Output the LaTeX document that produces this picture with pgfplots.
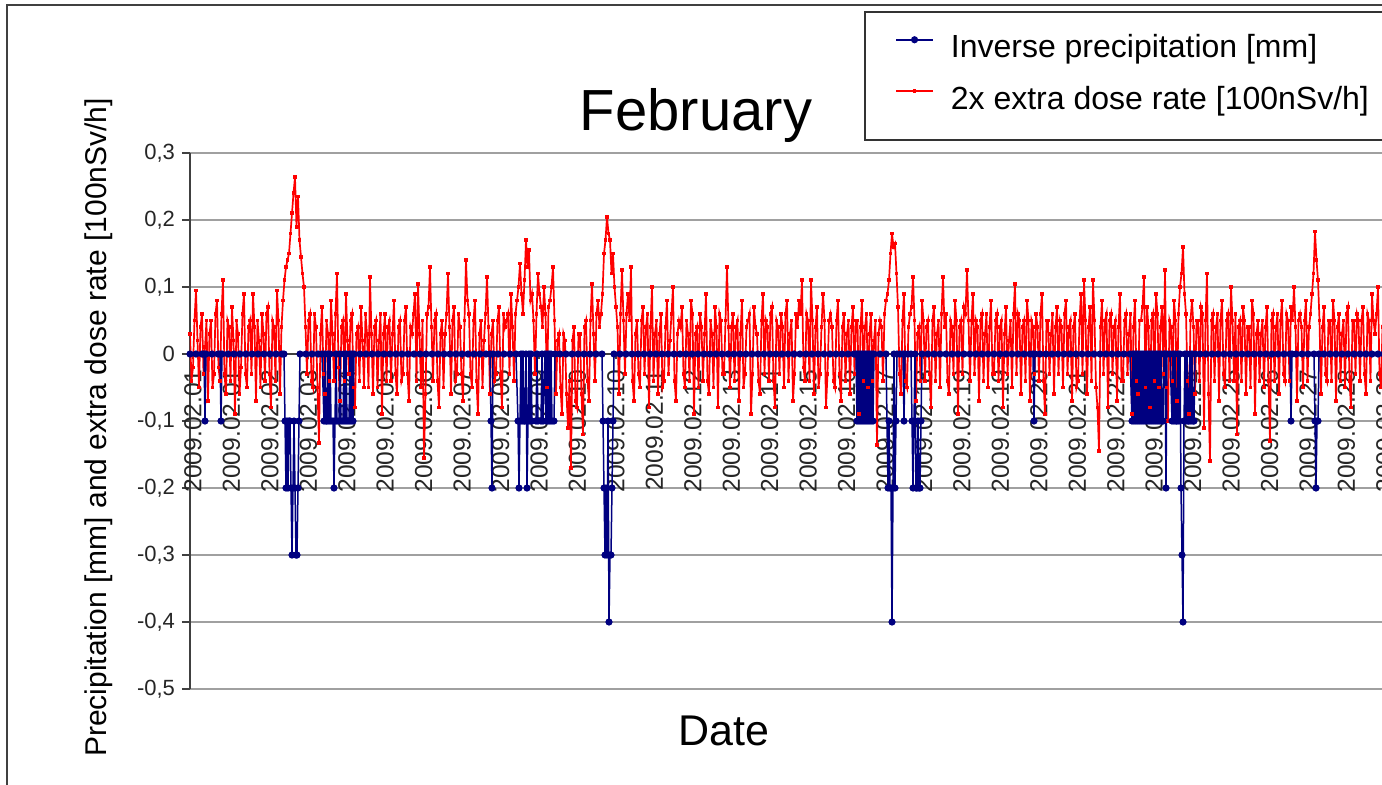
\documentclass[border=0pt]{standalone}
\usepackage{fontspec}
\setmainfont{Liberation Sans}
\usepackage{pgfplots}
\pgfplotsset{compat=1.18}
\usepackage{pgfplotstable}
\definecolor{navyblue}{RGB}{0,0,128}
\definecolor{gridgray}{RGB}{160,160,160}
\definecolor{axisgray}{RGB}{64,64,64}

\pgfplotstableread[row sep=\\]{
x y\\
190 0.03\\ 191.5 -0.04\\ 193 -0.02\\ 194.5 0.05\\ 196 0.095\\ 197.5 0.02\\ 199 -0.05\\ 200.5 0.04\\ 202 0.06\\ 203.5 -0.03\\ 205 0.01\\ 206.5 0.05\\ 208 -0.07\\ 209.5 0.03\\ 211 0.05\\ 212.5 -0.05\\ 214 -0.03\\ 215.5 0.06\\ 217 0.08\\ 218.5 -0.02\\
220 -0.04\\ 221.5 0.06\\ 223 0.11\\ 224.5 -0.03\\ 226 -0.06\\ 227.5 0.05\\ 229 0.04\\ 230.5 -0.04\\ 232 0.07\\ 233.5 0.02\\ 235 -0.09\\ 236.5 0.05\\ 238 0.03\\ 239.5 -0.06\\ 241 -0.02\\ 242.5 0.06\\ 244 0.09\\ 245.5 -0.03\\ 247 -0.05\\ 248.5 0.04\\
250 0.05\\ 251.5 -0.03\\ 253 0.09\\ 254.5 0.04\\ 256 -0.07\\ 257.5 0.05\\ 259 0.02\\ 260.5 -0.05\\ 262 0.06\\ 263.5 0.03\\ 265 -0.04\\ 266.5 0.06\\ 268 0.07\\ 269.5 -0.03\\ 271 -0.08\\ 272.5 0.05\\ 274 0.04\\ 275.5 -0.04\\ 277 0.095\\ 278.5 0.05\\
280 -0.06\\ 281.5 0.04\\ 283 0.08\\ 284.5 0.11\\ 286 0.13\\ 287.5 0.14\\ 289 0.15\\ 290.5 0.18\\ 292 0.21\\ 293.5 0.24\\ 295 0.264\\ 296.5 0.19\\ 298 0.235\\ 299.5 0.17\\ 301 0.145\\ 302.5 0.12\\ 304 0.10\\ 305.5 0.04\\ 307 -0.03\\ 308.5 0.05\\
310 0.06\\ 311.5 -0.04\\ 313 -0.05\\ 314.5 0.06\\ 316 0.04\\ 317.5 -0.05\\ 319 -0.133\\ 320.5 0.03\\ 322 0.07\\ 323.5 -0.03\\ 325 -0.06\\ 326.5 0.05\\ 328 0.03\\ 329.5 -0.04\\ 331 0.08\\ 332.5 0.03\\ 334 -0.04\\ 335.5 0.06\\ 337 0.12\\ 338.5 -0.02\\
340 -0.07\\ 341.5 0.04\\ 343 0.05\\ 344.5 -0.04\\ 346 0.09\\ 347.5 0.02\\ 349 -0.03\\ 350.5 0.05\\ 352 0.06\\ 353.5 -0.05\\ 355 -0.08\\ 356.5 0.03\\ 358 0.04\\ 359.5 -0.04\\ 361 0.07\\ 362.5 0.02\\ 364 -0.05\\ 365.5 0.06\\ 367 0.03\\ 368.5 -0.05\\
370 0.115\\ 371.5 0.03\\ 373 -0.06\\ 374.5 0.04\\ 376 0.05\\ 377.5 -0.05\\ 379 0.02\\ 380.5 0.06\\ 382 -0.09\\ 383.5 0.03\\ 385 0.06\\ 386.5 -0.04\\ 388 0.04\\ 389.5 0.05\\ 391 -0.04\\ 392.5 0.03\\ 394 0.08\\ 395.5 -0.03\\ 397 -0.06\\ 398.5 0.04\\
400 0.05\\ 401.5 -0.04\\ 403 -0.03\\ 404.5 0.05\\ 406 0.07\\ 407.5 -0.03\\ 409 -0.07\\ 410.5 0.04\\ 412 0.03\\ 413.5 0.06\\ 415 0.09\\ 416.5 -0.04\\ 418 0.105\\ 419.5 0.03\\ 421 -0.05\\ 422.5 0.05\\ 424 -0.155\\ 425.5 -0.06\\ 427 0.06\\ 428.5 0.07\\
430 0.13\\ 431.5 0.04\\ 433 -0.04\\ 434.5 0.05\\ 436 0.06\\ 437.5 -0.04\\ 439 -0.08\\ 440.5 0.03\\ 442 0.05\\ 443.5 -0.05\\ 445 0.03\\ 446.5 0.06\\ 448 0.12\\ 449.5 0.04\\ 451 -0.06\\ 452.5 0.05\\ 454 0.07\\ 455.5 -0.04\\ 457 -0.03\\ 458.5 0.06\\
460 0.04\\ 461.5 -0.03\\ 463 -0.07\\ 464.5 0.05\\ 466 0.14\\ 467.5 0.08\\ 469 0.06\\ 470.5 -0.03\\ 472 -0.05\\ 473.5 0.05\\ 475 0.08\\ 476.5 -0.04\\ 478 -0.09\\ 479.5 0.03\\ 481 0.05\\ 482.5 -0.05\\ 484 0.02\\ 485.5 0.06\\ 487 0.115\\ 488.5 0.04\\
490 -0.06\\ 491.5 0.03\\ 493 0.05\\ 494.5 -0.04\\ 496 -0.03\\ 497.5 0.05\\ 499 0.07\\ 500.5 -0.03\\ 502 -0.08\\ 503.5 0.06\\ 505 0.04\\ 506.5 0.05\\ 508 0.06\\ 509.5 -0.03\\ 511 0.09\\ 512.5 0.04\\ 514 -0.04\\ 515.5 0.06\\ 517 0.08\\ 518.5 0.10\\
520 0.135\\ 521.5 0.09\\ 523 0.06\\ 524.5 0.11\\ 526 0.17\\ 527.5 0.13\\ 529 0.155\\ 530.5 0.08\\ 532 0.09\\ 533.5 0.05\\ 535 -0.03\\ 536.5 0.06\\ 538 0.12\\ 539.5 0.09\\ 541 0.07\\ 542.5 0.04\\ 544 0.10\\ 545.5 0.06\\ 547 -0.05\\ 548.5 0.07\\
550 0.08\\ 551.5 0.10\\ 553 0.13\\ 554.5 0.05\\ 556 -0.06\\ 557.5 0.02\\ 559 0.03\\ 560.5 -0.05\\ 562 -0.09\\ 563.5 0.03\\ 565 0.02\\ 566.5 -0.06\\ 568 -0.11\\ 569.5 -0.04\\ 571 -0.17\\ 572.5 0.02\\ 574 0.04\\ 575.5 -0.07\\ 577 -0.08\\ 578.5 0.03\\
580 0.03\\ 581.5 -0.06\\ 583 -0.12\\ 584.5 0.04\\ 586 0.05\\ 587.5 -0.04\\ 589 -0.07\\ 590.5 0.05\\ 592 0.105\\ 593.5 0.03\\ 595 -0.04\\ 596.5 0.06\\ 598 0.08\\ 599.5 0.04\\ 601 0.06\\ 602.5 0.09\\ 604 0.15\\ 605.5 0.17\\ 607 0.205\\ 608.5 0.18\\
610 0.17\\ 611.5 0.12\\ 613 0.15\\ 614.5 0.10\\ 616 0.07\\ 617.5 0.04\\ 619 -0.06\\ 620.5 0.06\\ 622 0.125\\ 623.5 0.05\\ 625 -0.03\\ 626.5 0.06\\ 628 0.09\\ 629.5 0.05\\ 631 0.13\\ 632.5 -0.04\\ 634 -0.07\\ 635.5 0.03\\ 637 0.05\\ 638.5 -0.03\\
640 -0.05\\ 641.5 0.05\\ 643 0.07\\ 644.5 -0.03\\ 646 0.04\\ 647.5 0.06\\ 649 -0.08\\ 650.5 0.04\\ 652 0.10\\ 653.5 -0.04\\ 655 0.03\\ 656.5 0.05\\ 658 -0.06\\ 659.5 0.03\\ 661 0.06\\ 662.5 -0.05\\ 664 -0.04\\ 665.5 0.04\\ 667 0.08\\ 668.5 -0.03\\
670 0.02\\ 671.5 0.06\\ 673 0.10\\ 674.5 -0.04\\ 676 -0.07\\ 677.5 0.03\\ 679 0.05\\ 680.5 0.04\\ 682 0.07\\ 683.5 -0.03\\ 685 -0.05\\ 686.5 0.05\\ 688 0.03\\ 689.5 -0.04\\ 691 0.08\\ 692.5 0.06\\ 694 -0.09\\ 695.5 0.03\\ 697 0.04\\ 698.5 -0.05\\
700 0.06\\ 701.5 0.04\\ 703 -0.04\\ 704.5 0.03\\ 706 0.09\\ 707.5 -0.04\\ 709 -0.06\\ 710.5 0.05\\ 712 0.03\\ 713.5 -0.05\\ 715 0.07\\ 716.5 0.04\\ 718 -0.08\\ 719.5 0.06\\ 721 0.05\\ 722.5 -0.03\\ 724 -0.03\\ 725.5 0.05\\ 727 0.13\\ 728.5 0.04\\
730 -0.05\\ 731.5 0.04\\ 733 0.06\\ 734.5 -0.04\\ 736 0.04\\ 737.5 0.05\\ 739 -0.07\\ 740.5 0.03\\ 742 0.08\\ 743.5 -0.05\\ 745 -0.03\\ 746.5 0.04\\ 748 0.05\\ 749.5 0.06\\ 751 -0.09\\ 752.5 -0.03\\ 754 0.07\\ 755.5 0.04\\ 757 0.03\\ 758.5 -0.04\\
760 -0.06\\ 761.5 0.05\\ 763 0.09\\ 764.5 -0.03\\ 766 0.05\\ 767.5 0.04\\ 769 -0.04\\ 770.5 0.06\\ 772 0.07\\ 773.5 -0.04\\ 775 -0.08\\ 776.5 0.05\\ 778 0.04\\ 779.5 -0.03\\ 781 0.06\\ 782.5 0.04\\ 784 -0.05\\ 785.5 0.06\\ 787 0.08\\ 788.5 -0.04\\
790 0.03\\ 791.5 0.05\\ 793 -0.07\\ 794.5 -0.03\\ 796 0.06\\ 797.5 0.04\\ 799 0.08\\ 800.5 0.06\\ 802 0.11\\ 803.5 -0.02\\ 805 -0.04\\ 806.5 0.06\\ 808 0.05\\ 809.5 -0.04\\ 811 0.11\\ 812.5 0.05\\ 814 -0.06\\ 815.5 0.04\\ 817 0.07\\ 818.5 -0.05\\
820 -0.03\\ 821.5 0.04\\ 823 0.09\\ 824.5 0.05\\ 826 -0.08\\ 827.5 -0.03\\ 829 0.05\\ 830.5 0.06\\ 832 0.04\\ 833.5 -0.04\\ 835 -0.05\\ 836.5 0.05\\ 838 0.08\\ 839.5 -0.03\\ 841 -0.07\\ 842.5 0.04\\ 844 0.06\\ 845.5 -0.04\\ 847 0.03\\ 848.5 0.05\\
850 -0.06\\ 851.5 0.04\\ 853 0.07\\ 854.5 -0.03\\ 856 0.05\\ 857.5 0.05\\ 859 -0.09\\ 860.5 0.04\\ 862 0.08\\ 863.5 -0.04\\ 865 0.04\\ 866.5 0.06\\ 868 -0.05\\ 869.5 0.03\\ 871 0.06\\ 872.5 -0.04\\ 874 0.02\\ 875.5 0.05\\ 877 -0.136\\ 878.5 0.03\\
880 0.05\\ 881.5 0.04\\ 883 -0.04\\ 884.5 0.06\\ 886 0.08\\ 887.5 0.09\\ 889 0.11\\ 890.5 0.15\\ 892 0.18\\ 893.5 0.16\\ 895 0.165\\ 896.5 0.12\\ 898 0.07\\ 899.5 -0.03\\ 901 -0.06\\ 902.5 0.05\\ 904 0.09\\ 905.5 -0.04\\ 907 -0.05\\ 908.5 0.04\\
910 0.06\\ 911.5 0.07\\ 913 0.115\\ 914.5 0.05\\ 916 -0.07\\ 917.5 0.03\\ 919 0.04\\ 920.5 -0.04\\ 922 0.08\\ 923.5 0.05\\ 925 -0.04\\ 926.5 0.04\\ 928 0.05\\ 929.5 -0.03\\ 931 -0.08\\ 932.5 0.05\\ 934 0.07\\ 935.5 -0.04\\ 937 0.03\\ 938.5 0.05\\
940 -0.05\\ 941.5 0.06\\ 943 0.115\\ 944.5 0.04\\ 946 0.06\\ 947.5 -0.04\\ 949 -0.06\\ 950.5 0.05\\ 952 0.04\\ 953.5 -0.03\\ 955 0.08\\ 956.5 0.05\\ 958 -0.09\\ 959.5 0.04\\ 961 0.05\\ 962.5 -0.03\\ 964 0.07\\ 965.5 0.06\\ 967 0.125\\ 968.5 0.05\\
970 -0.04\\ 971.5 0.05\\ 973 0.09\\ 974.5 -0.03\\ 976 0.05\\ 977.5 0.04\\ 979 -0.07\\ 980.5 0.05\\ 982 0.06\\ 983.5 -0.04\\ 985 0.03\\ 986.5 0.06\\ 988 -0.05\\ 989.5 0.04\\ 991 0.08\\ 992.5 -0.03\\ 994 -0.03\\ 995.5 0.05\\ 997 0.06\\ 998.5 -0.04\\
1000 0.04\\ 1001.5 0.05\\ 1003 -0.08\\ 1004.5 0.03\\ 1006 0.07\\ 1007.5 -0.03\\ 1009 0.02\\ 1010.5 0.05\\ 1012 -0.05\\ 1013.5 0.06\\ 1015 0.105\\ 1016.5 -0.03\\ 1018 0.06\\ 1019.5 0.05\\ 1021 -0.06\\ 1022.5 0.04\\ 1024 0.05\\ 1025.5 -0.04\\ 1027 0.08\\ 1028.5 0.05\\
1030 -0.07\\ 1031.5 0.05\\ 1033 0.04\\ 1034.5 -0.03\\ 1036 0.06\\ 1037.5 0.04\\ 1039 -0.04\\ 1040.5 0.06\\ 1042 0.09\\ 1043.5 -0.04\\ 1045 -0.09\\ 1046.5 0.05\\ 1048 0.05\\ 1049.5 -0.03\\ 1051 0.03\\ 1052.5 0.06\\ 1054 -0.06\\ 1055.5 0.04\\ 1057 0.07\\ 1058.5 -0.03\\
1060 0.05\\ 1061.5 0.04\\ 1063 -0.05\\ 1064.5 0.06\\ 1066 0.08\\ 1067.5 -0.03\\ 1069 0.04\\ 1070.5 0.05\\ 1072 -0.07\\ 1073.5 0.04\\ 1075 0.06\\ 1076.5 -0.05\\ 1078 -0.04\\ 1079.5 0.05\\ 1081 0.09\\ 1082.5 -0.03\\ 1084 0.11\\ 1085.5 0.05\\ 1087 -0.06\\ 1088.5 0.04\\
1090 0.07\\ 1091.5 -0.04\\ 1093 0.11\\ 1094.5 0.05\\ 1096 -0.05\\ 1097.5 -0.08\\ 1099 -0.145\\ 1100.5 0.04\\ 1102 0.08\\ 1103.5 -0.03\\ 1105 0.05\\ 1106.5 0.06\\ 1108 -0.08\\ 1109.5 0.05\\ 1111 0.06\\ 1112.5 -0.03\\ 1114 0.04\\ 1115.5 0.05\\ 1117 -0.07\\ 1118.5 0.04\\
1120 0.09\\ 1121.5 -0.04\\ 1123 -0.04\\ 1124.5 0.05\\ 1126 0.06\\ 1127.5 -0.03\\ 1129 0.03\\ 1130.5 0.06\\ 1132 -0.09\\ 1133.5 0.04\\ 1135 0.08\\ 1136.5 -0.04\\ 1138 -0.06\\ 1139.5 0.05\\ 1141 0.05\\ 1142.5 0.07\\ 1144 0.115\\ 1145.5 -0.05\\ 1147 0.07\\ 1148.5 0.04\\
1150 -0.08\\ 1151.5 0.05\\ 1153 0.06\\ 1154.5 -0.04\\ 1156 0.09\\ 1157.5 0.06\\ 1159 -0.05\\ 1160.5 0.04\\ 1162 0.07\\ 1163.5 -0.03\\ 1165 0.125\\ 1166.5 -0.05\\ 1168 -0.10\\ 1169.5 0.05\\ 1171 0.04\\ 1172.5 -0.04\\ 1174 0.08\\ 1175.5 0.05\\ 1177 -0.07\\ 1178.5 0.06\\
1180 0.10\\ 1181.5 0.12\\ 1183 0.16\\ 1184.5 0.09\\ 1186 0.06\\ 1187.5 -0.04\\ 1189 -0.09\\ 1190.5 0.05\\ 1192 0.08\\ 1193.5 0.04\\ 1195 -0.06\\ 1196.5 0.05\\ 1198 0.05\\ 1199.5 -0.04\\ 1201 0.07\\ 1202.5 0.06\\ 1204 -0.11\\ 1205.5 0.05\\ 1207 0.12\\ 1208.5 -0.06\\
1210 -0.16\\ 1211.5 0.05\\ 1213 0.06\\ 1214.5 -0.04\\ 1216 0.04\\ 1217.5 0.06\\ 1219 -0.07\\ 1220.5 0.05\\ 1222 0.08\\ 1223.5 -0.03\\ 1225 -0.05\\ 1226.5 0.05\\ 1228 0.06\\ 1229.5 -0.04\\ 1231 0.10\\ 1232.5 0.05\\ 1234 -0.04\\ 1235.5 0.06\\ 1237 -0.12\\ 1238.5 0.04\\
1240 0.05\\ 1241.5 -0.04\\ 1243 0.07\\ 1244.5 0.05\\ 1246 -0.06\\ 1247.5 0.04\\ 1249 0.04\\ 1250.5 -0.05\\ 1252 0.08\\ 1253.5 0.06\\ 1255 -0.09\\ 1256.5 0.03\\ 1258 0.05\\ 1259.5 -0.04\\ 1261 0.03\\ 1262.5 0.05\\ 1264 -0.05\\ 1265.5 0.04\\ 1267 0.07\\ 1268.5 -0.04\\
1270 -0.13\\ 1271.5 0.05\\ 1273 0.06\\ 1274.5 -0.04\\ 1276 0.04\\ 1277.5 0.06\\ 1279 -0.06\\ 1280.5 0.05\\ 1282 0.08\\ 1283.5 -0.03\\ 1285 -0.04\\ 1286.5 0.06\\ 1288 0.05\\ 1289.5 -0.04\\ 1291 0.07\\ 1292.5 0.05\\ 1294 0.10\\ 1295.5 0.04\\ 1297 -0.07\\ 1298.5 0.05\\
1300 0.06\\ 1301.5 0.04\\ 1303 -0.05\\ 1304.5 0.05\\ 1306 0.08\\ 1307.5 -0.04\\ 1309 0.04\\ 1310.5 0.06\\ 1312 0.09\\ 1313.5 0.12\\ 1315 0.183\\ 1316.5 0.14\\ 1318 0.11\\ 1319.5 0.05\\ 1321 -0.06\\ 1322.5 0.04\\ 1324 0.07\\ 1325.5 -0.03\\ 1327 -0.04\\ 1328.5 0.05\\
1330 0.05\\ 1331.5 -0.04\\ 1333 0.08\\ 1334.5 0.05\\ 1336 -0.07\\ 1337.5 0.04\\ 1339 0.06\\ 1340.5 -0.04\\ 1342 0.03\\ 1343.5 0.05\\ 1345 -0.05\\ 1346.5 0.06\\ 1348 0.07\\ 1349.5 -0.04\\ 1351 -0.08\\ 1352.5 0.05\\ 1354 0.05\\ 1355.5 -0.03\\ 1357 0.06\\ 1358.5 0.05\\
1360 -0.04\\ 1361.5 0.05\\ 1363 0.07\\ 1364.5 -0.03\\ 1366 -0.06\\ 1367.5 0.06\\ 1369 0.05\\ 1370.5 -0.04\\ 1372 0.09\\ 1373.5 0.05\\ 1375 0.03\\ 1376.5 0.06\\ 1378 0.10\\ 1379.5 -0.03\\ 1381 -0.05\\ 1382.5 0.04\\ 1384 0.06\\ 1385.5 -0.04\\ 1387 -0.07\\ 1388.5 0.05\\
1390 0.05\\ 1391.5 -0.04\\ 1393 0.04\\ 1394.5 0.05\\ 1396 -0.06\\ 1397.5 0.04\\ 1399 0.07\\ 1400.5 -0.04\\ 1402 -0.03\\ 1403.5 0.06\\ 1405 0.08\\ 1406.5 -0.03\\ 1408 -0.05\\ 1409.5 0.05\\ 1411 0.06\\ 1412.5 -0.04\\ 1414 0.04\\ 1415.5 0.05\\ 1417 -0.06\\ 1418.5 0.03\\ 1420 0.05\\
}\dosedata

\pgfplotstableread[row sep=\\]{
x y\\
190 0\\ 196 0\\ 202 0\\ 204 0\\ 205 -0.1\\ 206 0\\ 212 0\\ 218 0\\ 220 0\\ 221 -0.1\\ 222 0\\ 228 0\\ 234 0\\ 240 0\\
246 0\\ 252 0\\ 258 0\\ 264 0\\ 270 0\\ 276 0\\ 282 0\\ 284 0\\
285 -0.1\\ 286 -0.2\\ 287 -0.1\\ 288 -0.2\\ 289 -0.1\\ 290 -0.1\\ 291 -0.2\\ 292 -0.3\\ 293 -0.2\\ 294 -0.1\\
295 -0.2\\ 296 -0.3\\ 297 -0.3\\ 298 -0.2\\ 299 -0.1\\ 300 0\\ 306 0\\ 312 0\\ 318 0\\ 322 0\\
324 -0.1\\ 325 0\\ 326 -0.1\\ 327 -0.1\\ 328 0\\ 329 -0.1\\ 330 0\\ 331 -0.1\\ 333 -0.1\\ 334 -0.2\\ 335 -0.1\\
336 0\\ 337 -0.1\\ 339 -0.1\\ 340 0\\ 341 -0.1\\ 343 -0.1\\ 344 0\\ 345 -0.1\\ 346 0\\ 347 -0.1\\ 349 -0.1\\
350 0\\ 351 -0.1\\ 352 0\\ 353 -0.1\\ 354 0\\
360 0\\ 366 0\\ 372 0\\ 378 0\\ 384 0\\ 390 0\\ 396 0\\ 402 0\\ 408 0\\ 414 0\\ 420 0\\ 426 0\\ 432 0\\ 438 0\\
444 0\\ 450 0\\ 456 0\\ 462 0\\ 468 0\\ 474 0\\ 480 0\\ 486 0\\ 490 0\\ 491 -0.1\\ 492 -0.2\\ 493 0\\
498 0\\ 504 0\\ 510 0\\ 516 0\\
518 -0.1\\ 519 -0.2\\ 520 -0.1\\ 521 0\\ 522 -0.1\\ 523 0\\ 524 -0.1\\ 525 -0.1\\ 526 0\\ 527 -0.2\\ 528 -0.1\\
529 0\\ 530 -0.1\\ 531 0\\ 532 -0.1\\ 536 -0.1\\ 537 0\\ 538 -0.1\\ 541 -0.1\\ 542 0\\ 543 -0.1\\ 545 0\\
546 -0.1\\ 547 0\\ 548 -0.1\\ 549 0\\ 550 -0.1\\ 551 0\\ 552 -0.1\\ 554 -0.1\\ 555 0\\
560 0\\ 566 0\\ 572 0\\ 578 0\\ 584 0\\ 590 0\\ 596 0\\ 602 0\\
603 -0.1\\ 604 -0.2\\ 605 -0.3\\ 606 -0.2\\ 607 -0.3\\ 608 -0.1\\ 609 -0.4\\ 610 -0.3\\ 611 -0.3\\ 612 -0.2\\ 613 -0.1\\ 614 0\\
620 0\\ 626 0\\ 632 0\\ 638 0\\ 644 0\\ 650 0\\ 656 0\\ 662 0\\ 668 0\\ 674 0\\ 680 0\\ 686 0\\ 692 0\\ 698 0\\
704 0\\ 710 0\\ 716 0\\ 722 0\\ 728 0\\ 734 0\\ 740 0\\ 746 0\\ 752 0\\ 758 0\\ 764 0\\ 770 0\\ 776 0\\ 782 0\\
788 0\\ 794 0\\ 800 0\\ 806 0\\ 812 0\\ 818 0\\ 824 0\\ 830 0\\ 836 0\\ 842 0\\ 848 0\\ 854 0\\ 856 0\\
857 -0.1\\ 858 0\\ 859 -0.1\\ 860 0\\ 861 -0.1\\ 862 0\\ 863 -0.1\\ 864 0\\ 865 -0.1\\ 866 0\\ 867 -0.1\\ 868 0\\
869 -0.1\\ 870 0\\ 871 -0.1\\ 872 0\\ 873 -0.1\\ 874 0\\ 880 0\\ 886 0\\
888 -0.2\\ 889 -0.1\\ 890 -0.2\\ 891 -0.2\\ 892 -0.4\\ 893 -0.2\\ 894 0\\ 895 -0.2\\ 896 -0.1\\ 897 0\\ 900 0\\
903 0\\ 904 -0.1\\ 905 0\\ 908 0\\ 911 0\\
912 -0.1\\ 913 -0.2\\ 914 -0.1\\ 915 0\\ 916 -0.2\\ 917 -0.2\\ 918 -0.1\\ 919 -0.2\\ 920 -0.2\\ 921 -0.1\\ 922 0\\
928 0\\ 934 0\\ 940 0\\ 946 0\\ 952 0\\ 958 0\\ 964 0\\ 970 0\\ 976 0\\ 982 0\\ 988 0\\ 994 0\\ 1000 0\\
1006 0\\ 1012 0\\ 1018 0\\ 1024 0\\ 1030 0\\ 1033 0\\ 1034 -0.1\\ 1035 0\\
1040 0\\ 1046 0\\ 1052 0\\ 1058 0\\ 1064 0\\ 1070 0\\ 1076 0\\ 1082 0\\ 1088 0\\ 1094 0\\ 1100 0\\ 1106 0\\
1112 0\\ 1118 0\\ 1124 0\\ 1130 0\\
1132 -0.1\\ 1133 0\\ 1134 -0.1\\ 1135 0\\ 1136 -0.1\\ 1137 0\\ 1138 -0.1\\ 1139 0\\ 1140 -0.1\\ 1141 0\\
1142 -0.1\\ 1143 0\\ 1144 -0.1\\ 1145 0\\ 1146 -0.1\\ 1147 0\\ 1148 -0.1\\ 1149 0\\ 1150 -0.1\\ 1151 0\\
1152 -0.1\\ 1153 0\\ 1154 -0.1\\ 1155 0\\ 1156 -0.1\\ 1157 0\\ 1158 -0.1\\ 1159 0\\ 1160 -0.1\\ 1161 0\\
1162 -0.1\\ 1163 -0.1\\ 1164 0\\ 1165 0\\ 1166 -0.2\\ 1167 0\\ 1170 0\\
1172 -0.1\\ 1173 0\\ 1174 -0.1\\ 1175 0\\ 1176 -0.1\\ 1177 -0.1\\ 1178 0\\ 1179 -0.1\\ 1180 0\\ 1181 -0.2\\
1182 -0.3\\ 1183 -0.4\\ 1184 -0.1\\ 1185 0\\ 1186 -0.1\\ 1187 0\\ 1188 -0.1\\ 1189 -0.1\\ 1190 0\\ 1191 -0.1\\
1192 0\\ 1193 -0.1\\ 1194 -0.1\\ 1195 0\\
1200 0\\ 1206 0\\ 1212 0\\ 1218 0\\ 1224 0\\ 1230 0\\ 1236 0\\ 1242 0\\ 1248 0\\ 1254 0\\ 1260 0\\ 1266 0\\
1272 0\\ 1278 0\\ 1284 0\\ 1290 0\\ 1291 -0.1\\ 1292 0\\ 1296 0\\ 1302 0\\ 1308 0\\ 1314 0\\
1315 -0.1\\ 1316 -0.2\\ 1317 -0.1\\ 1318 -0.1\\ 1319 0\\
1324 0\\ 1330 0\\ 1336 0\\ 1342 0\\ 1348 0\\ 1354 0\\ 1360 0\\ 1366 0\\ 1372 0\\ 1378 0\\ 1384 0\\ 1390 0\\
1396 0\\ 1402 0\\ 1408 0\\ 1414 0\\ 1420 0\\
}\precipdata

\begin{document}
\begin{tikzpicture}
\path[use as bounding box] (0,0) rectangle (691pt,392pt);
\clip (0,0) rectangle (691pt,392pt);
\fill[white] (0,0) rectangle (691pt,392pt);
\draw[black!75, line width=1pt] (3.5pt,-20pt) -- (3.5pt,389.5pt) -- (720pt,389.5pt);
\begin{axis}[
  at={(95pt,47.5pt)}, anchor=south west,
  scale only axis, width=615pt, height=268pt,
  xmin=190, xmax=1420, ymin=-0.5, ymax=0.3,
  axis x line=middle, axis y line=left,
  axis line style={-, axisgray, line width=0.6pt},
  hide obscured x ticks=false, hide obscured y ticks=false,
  ytick={-0.5,-0.4,-0.3,-0.2,-0.1,0,0.1,0.2,0.3},
  yticklabels={{-0,5},{-0,4},{-0,3},{-0,2},{-0,1},{0},{0,1},{0,2},{0,3}},
  ymajorgrids, grid style={gridgray, line width=0.8pt},
  xtick={193,231.45,...,1386},
  xticklabels={2009.02.01,2009.02.01,2009.02.02,2009.02.03,2009.02.04,2009.02.05,2009.02.06,2009.02.07,2009.02.08,2009.02.09,2009.02.10,2009.02.10,2009.02.11,2009.02.12,2009.02.13,2009.02.14,2009.02.15,2009.02.16,2009.02.17,2009.02.18,2009.02.19,2009.02.19,2009.02.20,2009.02.21,2009.02.22,2009.02.23,2009.02.24,2009.02.25,2009.02.26,2009.02.27,2009.02.28,2009.02.28},
  tick align=outside, major tick length=4pt,
  xtick style={axisgray, line width=0.6pt, /pgfplots/major tick length=2.5pt},
  ytick style={axisgray, line width=0.6pt},
  yticklabel style={font=\fontsize{11}{13}\selectfont, text=black!85},
  xticklabel shift=3.5pt,
  xticklabel style={font=\fontsize{12.3}{14}\selectfont, rotate=90, anchor=east, inner sep=0pt, text=black!85},
  title={February}, xlabel={Date},
  ylabel={Precipitation [mm] and extra dose rate [100nSv/h]},
  every axis title/.style={at={(rel axis cs:0.4114,1.0429)}, anchor=base, font=\fontsize{29}{34}\selectfont},
  every axis x label/.style={at={(rel axis cs:0.4341,-0.1045)}, anchor=base, font=\fontsize{21.5}{25}\selectfont},
  every axis y label/.style={at={(rel axis cs:-0.0675,0.4879)}, anchor=base, rotate=90, font=\fontsize{15}{18}\selectfont},
  legend reversed,
  legend cell align=left,
  legend style={at={(rel axis cs:0.573,1.229)}, anchor=north west, draw=none, fill=none,
    font=\fontsize{16}{19}\selectfont, inner sep=0pt, row sep=8.5pt,
    /tikz/every odd column/.append style={column sep=6.5pt}},
  legend image code/.code={\draw[mark repeat=2,mark phase=2,yshift=4pt] plot coordinates {(0pt,0pt)(9.25pt,0pt)(18.5pt,0pt)};},
]
\addplot[red, line width=0.85pt, mark=square*, mark size=0.5pt] table[x=x,y=y] {\dosedata};
\addlegendentry{2x extra dose rate [100nSv/h]}
\addplot[navyblue, line width=0.75pt, mark=*, mark size=1.4pt] table[x=x,y=y] {\precipdata};
\addlegendentry{Inverse precipitation [mm]}
\end{axis}
\draw[black!80, line width=0.7pt] (432.5pt,322pt) rectangle (720pt,386pt);
\end{tikzpicture}
\end{document}
